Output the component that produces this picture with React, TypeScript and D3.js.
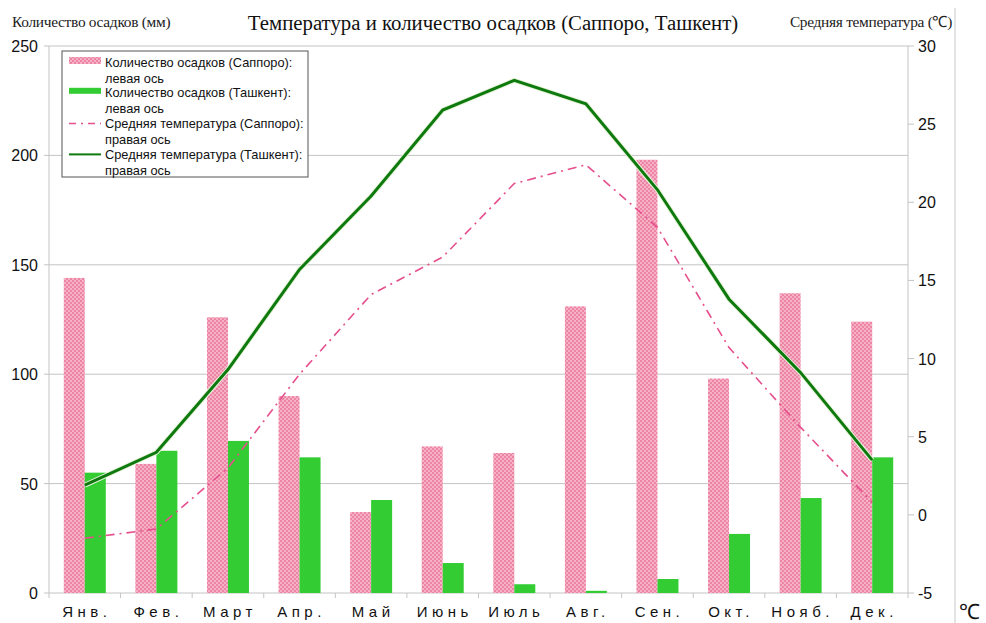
import React from "react";
import * as d3 from "d3";

const months = ["Янв.", "Фев.", "Март", "Апр.", "Май", "Июнь", "Июль", "Авг.", "Сен.", "Окт.", "Нояб.", "Дек."];
const precipSapporo = [144, 59, 126, 90, 37, 67, 64, 131, 198, 98, 137, 124];
const precipTashkent = [55, 65, 69.5, 62, 42.5, 13.7, 4, 1, 6.4, 27, 43.4, 62];
const tempSapporo = [-1.5, -0.9, 3.0, 9.0, 14.1, 16.5, 21.2, 22.4, 18.4, 10.7, 5.6, 0.8];
const tempTashkent = [1.9, 4.0, 9.3, 15.7, 20.4, 25.9, 27.8, 26.3, 20.8, 13.8, 9.1, 3.5];
const leftTicks = [0, 50, 100, 150, 200, 250];
const rightTicks = [-5, 0, 5, 10, 15, 20, 25, 30];

const W = 986;
const H = 623;
const margin = { top: 46, right: 78, bottom: 30, left: 49 };

const App = () => {
  const x = d3
    .scaleBand()
    .domain(months)
    .range([margin.left, W - margin.right]);
  const yL = d3.scaleLinear().domain([0, 250]).range([H - margin.bottom, margin.top]);
  const yR = d3.scaleLinear().domain([-5, 30]).range([H - margin.bottom, margin.top]);
  const barW = 21;
  const cx = (i) => (x(months[i]) as number) + x.bandwidth() / 2;

  const line = d3
    .line<number>()
    .x((d, i) => cx(i))
    .y((d) => yR(d));

  const sans = "'Liberation Sans', Arial, sans-serif";
  const serif = "'Liberation Serif', 'Times New Roman', serif";
  const x0 = margin.left;
  const x1 = W - margin.right;
  const yBottom = H - margin.bottom;

  // legend rows: symbol + two text lines each
  const legend = [
    { kind: "pink", l1: "Количество осадков (Саппоро):", l2: "левая ось" },
    { kind: "green", l1: "Количество осадков (Ташкент):", l2: "левая ось" },
    { kind: "dash", l1: "Средняя температура  (Саппоро):", l2: "правая ось" },
    { kind: "solid", l1: "Средняя температура  (Ташкент):", l2: "правая ось" },
  ];

  return (
    <svg width={W} height={H} style={{ position: "absolute", left: 0, top: 0, background: "#fff" }}>
      <defs>
        <pattern id="pinkDots" width="4" height="4" patternUnits="userSpaceOnUse">
          <rect width="4" height="4" fill="#f7b0c5" />
          <rect x="0" y="0" width="2" height="2" fill="#ec84a4" />
          <rect x="2" y="2" width="2" height="2" fill="#ec84a4" />
        </pattern>
      </defs>

      {/* gridlines */}
      {leftTicks.map((t) => (
        <line key={t} x1={x0} x2={x1} y1={yL(t)} y2={yL(t)} stroke="#c4c4c4" strokeWidth={1} />
      ))}
      {/* left axis */}
      <line x1={x0} x2={x0} y1={margin.top} y2={yBottom} stroke="#c4c4c4" />
      {leftTicks.map((t) => (
        <g key={"l" + t}>
          <line x1={x0 - 5} x2={x0} y1={yL(t)} y2={yL(t)} stroke="#c4c4c4" />
          <text x={38} y={yL(t) + 6} textAnchor="end" fontFamily={sans} fontSize={16} fill="#111">
            {t}
          </text>
        </g>
      ))}
      {/* right axis */}
      <line x1={x1} x2={x1} y1={margin.top} y2={yBottom} stroke="#c4c4c4" />
      {rightTicks.map((t) => (
        <g key={"r" + t}>
          <line x1={x1} x2={x1 + 6} y1={yR(t)} y2={yR(t)} stroke="#c4c4c4" />
          <text x={918} y={yR(t) + 6} fontFamily={sans} fontSize={16} fill="#111">
            {t}
          </text>
        </g>
      ))}
      {/* category ticks */}
      {months.map((m) => (
        <line key={"t" + m} x1={x(m)} x2={x(m)} y1={yBottom} y2={yBottom + 5} stroke="#c4c4c4" />
      ))}
      <line x1={x1} x2={x1} y1={yBottom} y2={yBottom + 5} stroke="#c4c4c4" />

      {/* bars */}
      {precipSapporo.map((v, i) => (
        <rect
          key={"ps" + i}
          x={cx(i) - barW}
          y={yL(v)}
          width={barW}
          height={yBottom - yL(v)}
          fill="url(#pinkDots)"
        />
      ))}
      {precipTashkent.map((v, i) => (
        <rect key={"pt" + i} x={cx(i)} y={yL(v)} width={barW} height={yBottom - yL(v)} fill="#33cc33" />
      ))}

      {/* temperature lines */}
      <path d={line(tempSapporo) as string} fill="none" stroke="#e64f8d" strokeWidth={1.6} strokeDasharray="9,5,2,5" />
      <path d={line(tempTashkent) as string} fill="none" stroke="#e8f3dc" strokeWidth={5} strokeLinejoin="round" />
      <path d={line(tempTashkent) as string} fill="none" stroke="#0e7a0e" strokeWidth={3} />

      {/* x labels */}
      {months.map((m, i) => (
        <text
          key={"m" + m}
          x={cx(i) + 2}
          y={617}
          textAnchor="middle"
          fontFamily={sans}
          fontSize={15}
          letterSpacing={4.5}
          fill="#111"
        >
          {m}
        </text>
      ))}

      {/* legend */}
      <rect x={62} y={51} width={246} height={126} fill="#fff" stroke="#555" strokeWidth={1} />
      {legend.map((d, i) => {
        const yy = 62 + i * 30.8;
        return (
          <g key={"lg" + i}>
            {d.kind === "pink" && <rect x={69} y={yy - 5} width={32} height={7} fill="url(#pinkDots)" />}
            {d.kind === "green" && <rect x={69} y={yy - 5} width={32} height={6} fill="#33cc33" />}
            {d.kind === "dash" && (
              <line x1={69} x2={101} y1={yy} y2={yy} stroke="#e64f8d" strokeWidth={1.5} strokeDasharray="7,5,2,5" />
            )}
            {d.kind === "solid" && <line x1={69} x2={101} y1={yy} y2={yy} stroke="#0e7a0e" strokeWidth={2} />}
            <text x={105} y={yy + 4.5} fontFamily={sans} fontSize={12.8} fill="#111">
              {d.l1}
            </text>
            <text x={105} y={yy + 20.5} fontFamily={sans} fontSize={12.8} fill="#111">
              {d.l2}
            </text>
          </g>
        );
      })}

      {/* titles */}
      <text x={493} y={30} textAnchor="middle" fontFamily={serif} fontSize={20.8} fill="#111">
        Температура и количество осадков (Саппоро, Ташкент)
      </text>
      <text x={12} y={27} fontFamily={serif} fontSize={15.4} fill="#222" letterSpacing={-0.3}>
        Количество осадков (мм)
      </text>
      <text x={952} y={27} textAnchor="end" fontFamily={serif} fontSize={15.4} fill="#222" letterSpacing={-0.3}>
        Средняя температура (℃)
      </text>
      <line x1={955} x2={955} y1={8} y2={H} stroke="#c8c8c8" />
      <text x={959} y={619} fontFamily={serif} fontSize={21} fill="#111">
        ℃
      </text>
    </svg>
  );
};

export default App;
